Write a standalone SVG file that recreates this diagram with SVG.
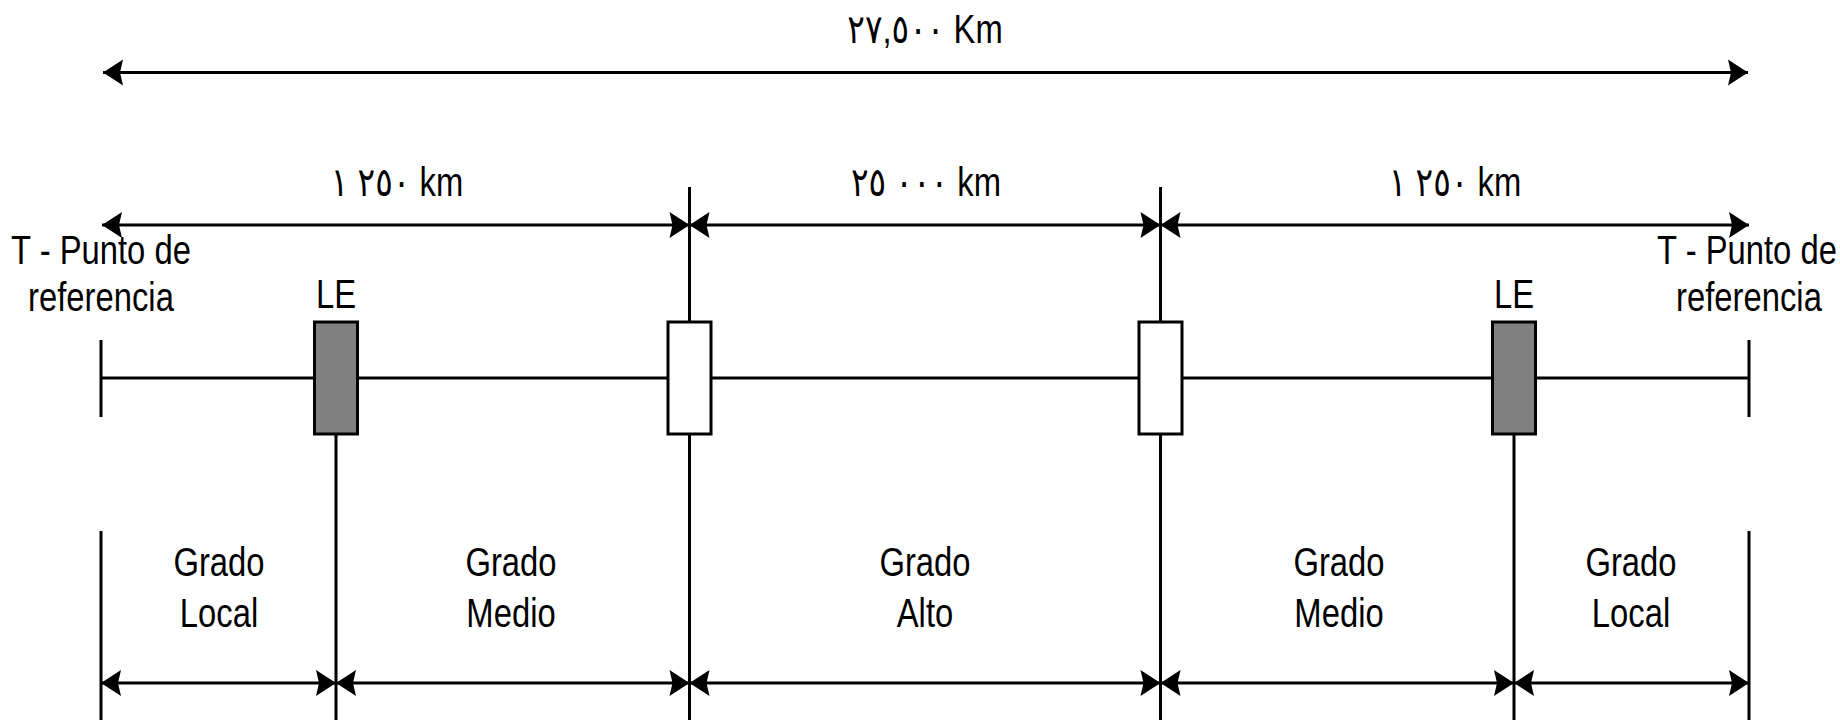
<svg xmlns="http://www.w3.org/2000/svg" width="1840" height="720" viewBox="0 0 1840 720">
  <style>
    .t { font-family: 'Liberation Sans', Arial, 'DejaVu Sans', sans-serif; font-size: 40px; fill: #000; text-anchor: middle; }
    .ar { direction: ltr; unicode-bidi: bidi-override; }
    .ln { stroke: #000; stroke-width: 3; fill: none; }
    .dim { stroke: #000; stroke-width: 3; fill: none; marker-start: url(#ah); marker-end: url(#ah); }
    .le { fill: #808080; stroke: #000; stroke-width: 3; }
    .wb { fill: #fff; stroke: #000; stroke-width: 3; }
  </style>
  <defs>
    <marker id="ah" viewBox="-21 -14 22 28" refX="0" refY="0" markerWidth="22" markerHeight="28" markerUnits="userSpaceOnUse" orient="auto-start-reverse">
      <path d="M0,0 L-20,-13 L-17,0 L-20,13 Z" fill="#000"/>
    </marker>
  </defs>
  <rect width="1840" height="720" fill="#fff"/>

  <g id="connectors">
    <line class="dim" x1="103" y1="72.5" x2="1748" y2="72.5"/>
    <line class="dim" x1="102" y1="225" x2="689.5" y2="225"/>
    <line class="dim" x1="689.5" y1="225" x2="1160.5" y2="225"/>
    <line class="dim" x1="1160.5" y1="225" x2="1749" y2="225"/>
    <line class="ln" x1="101" y1="378" x2="1749" y2="378"/>
    <line class="ln" x1="101" y1="340" x2="101" y2="417"/>
    <line class="ln" x1="1749" y1="340" x2="1749" y2="417"/>
    <line class="ln" x1="689.5" y1="187" x2="689.5" y2="321"/>
    <line class="ln" x1="1160.5" y1="187" x2="1160.5" y2="321"/>
    <line class="ln" x1="101" y1="531" x2="101" y2="720"/>
    <line class="ln" x1="336" y1="435" x2="336" y2="720"/>
    <line class="ln" x1="689.5" y1="435" x2="689.5" y2="720"/>
    <line class="ln" x1="1160.5" y1="435" x2="1160.5" y2="720"/>
    <line class="ln" x1="1514" y1="435" x2="1514" y2="720"/>
    <line class="ln" x1="1749" y1="531" x2="1749" y2="720"/>
    <line class="dim" x1="101" y1="683" x2="336" y2="683"/>
    <line class="dim" x1="336" y1="683" x2="689.5" y2="683"/>
    <line class="dim" x1="689.5" y1="683" x2="1160.5" y2="683"/>
    <line class="dim" x1="1160.5" y1="683" x2="1514" y2="683"/>
    <line class="dim" x1="1514" y1="683" x2="1749" y2="683"/>
  </g>

  <g id="le-left">
    <rect class="le" x="314.5" y="322" width="43" height="112"/>
    <text class="t" transform="translate(336 0) scale(0.82 1)" x="0" y="308">LE</text>
  </g>
  <g id="box-left">
    <rect class="wb" x="668" y="322" width="43" height="112"/>
  </g>
  <g id="box-right">
    <rect class="wb" x="1139" y="322" width="43" height="112"/>
  </g>
  <g id="le-right">
    <rect class="le" x="1492.5" y="322" width="43" height="112"/>
    <text class="t" transform="translate(1514 0) scale(0.82 1)" x="0" y="308">LE</text>
  </g>

  <g id="ref-left">
    <text class="t" transform="translate(101 0) scale(0.82 1)" x="0" y="264">T - Punto de</text>
    <text class="t" transform="translate(101 0) scale(0.82 1)" x="0" y="311">referencia</text>
  </g>
  <g id="ref-right">
    <text class="t" transform="translate(1747 0) scale(0.82 1)" x="0" y="264">T - Punto de</text>
    <text class="t" transform="translate(1749 0) scale(0.82 1)" x="0" y="311">referencia</text>
  </g>

  <g id="labels-distance">
    <text class="t ar" transform="translate(925 0) scale(0.82 1)" x="0" y="43">٢٧,٥٠٠ Km</text>
    <text class="t ar" transform="translate(397 0) scale(0.82 1)" x="0" y="196">١ ٢٥٠ km</text>
    <text class="t ar" transform="translate(926 0) scale(0.82 1)" x="0" y="196">٢٥ ٠٠٠ km</text>
    <text class="t ar" transform="translate(1455 0) scale(0.82 1)" x="0" y="196">١ ٢٥٠ km</text>
  </g>

  <g id="grade-local-left">
    <text class="t" transform="translate(219 0) scale(0.82 1)" x="0" y="576">Grado</text>
    <text class="t" transform="translate(219 0) scale(0.82 1)" x="0" y="627">Local</text>
  </g>
  <g id="grade-medio-left">
    <text class="t" transform="translate(511 0) scale(0.82 1)" x="0" y="576">Grado</text>
    <text class="t" transform="translate(511 0) scale(0.82 1)" x="0" y="627">Medio</text>
  </g>
  <g id="grade-alto">
    <text class="t" transform="translate(925 0) scale(0.82 1)" x="0" y="576">Grado</text>
    <text class="t" transform="translate(925 0) scale(0.82 1)" x="0" y="627">Alto</text>
  </g>
  <g id="grade-medio-right">
    <text class="t" transform="translate(1339 0) scale(0.82 1)" x="0" y="576">Grado</text>
    <text class="t" transform="translate(1339 0) scale(0.82 1)" x="0" y="627">Medio</text>
  </g>
  <g id="grade-local-right">
    <text class="t" transform="translate(1631 0) scale(0.82 1)" x="0" y="576">Grado</text>
    <text class="t" transform="translate(1631 0) scale(0.82 1)" x="0" y="627">Local</text>
  </g>
</svg>
